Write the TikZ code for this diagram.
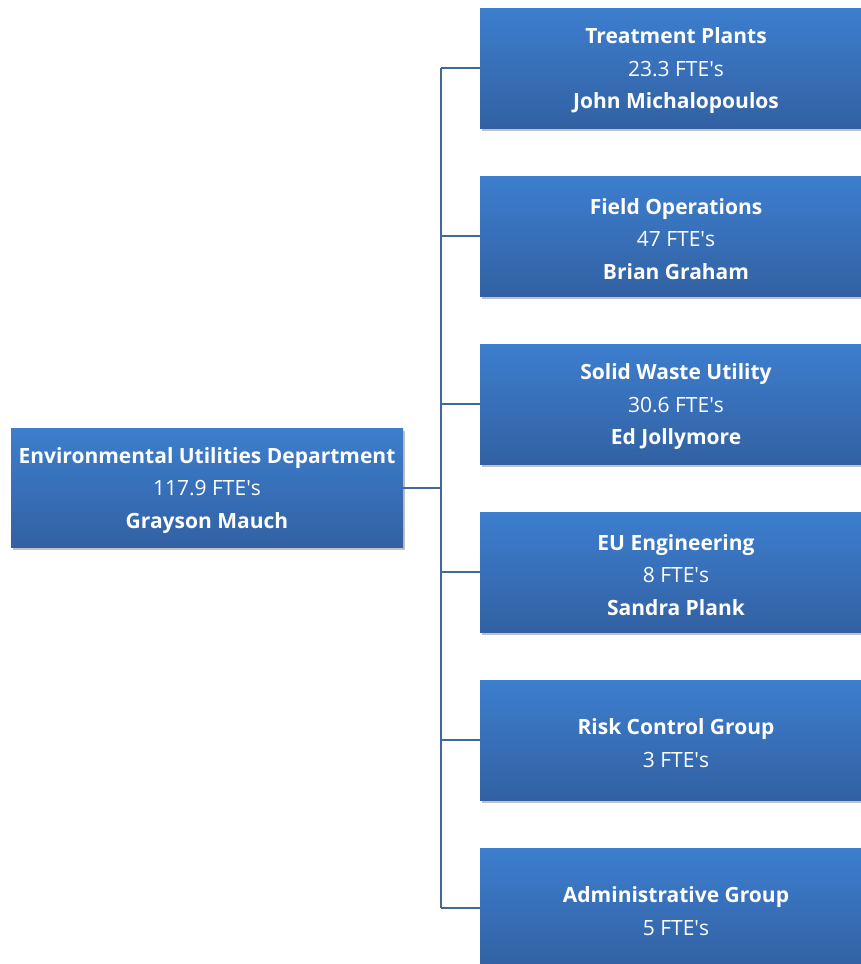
\documentclass[tikz,border=0pt]{standalone}
\usepackage{fontspec}
\setmainfont{Open Sans}
\usetikzlibrary{shadows}
\definecolor{boxtop}{RGB}{61,126,206}
\definecolor{boxbot}{RGB}{50,97,163}
\definecolor{linec}{RGB}{65,104,156}
\newcommand{\apos}{\XeTeXglyph\XeTeXcharglyph"0027\relax}
\tikzset{
  orgbox/.style={rectangle, top color=boxtop, bottom color=boxbot, draw=none,
    drop shadow={shadow xshift=2pt, shadow yshift=-3pt, opacity=0.35, fill=black!70}},
  boxtext/.style={text=white, align=center, inner sep=0pt, yshift=-3pt,
    font=\fontsize{21}{32.5}\selectfont},
  rootbox/.style={orgbox, minimum width=392pt, minimum height=119pt},
  childbox/.style={orgbox, minimum width=392pt, minimum height=120pt},
  conn/.style={draw=linec, line width=1.8pt}
}
\begin{document}
\begin{tikzpicture}[x=1pt,y=-1pt]
\useasboundingbox (0,0) rectangle (860,964);
\node[rootbox, label={[boxtext]center:\textbf{Environmental Utilities Department}\\117.9 FTE\apos s\\\textbf{Grayson Mauch}}] (root) at (207,487.5) {};
\node[childbox, label={[boxtext]center:\textbf{Treatment Plants}\\23.3 FTE\apos s\\\textbf{John Michalopoulos}}] (c1) at (676,68) {};
\node[childbox, label={[boxtext]center:\textbf{Field Operations}\\47 FTE\apos s\\\textbf{Brian Graham}}] (c2) at (676,236) {};
\node[childbox, label={[boxtext]center:\textbf{Solid Waste Utility}\\30.6 FTE\apos s\\\textbf{Ed Jollymore}}] (c3) at (676,404) {};
\node[childbox, label={[boxtext]center:\textbf{EU Engineering}\\8 FTE\apos s\\\textbf{Sandra Plank}}] (c4) at (676,572) {};
\node[childbox, label={[boxtext]center:\textbf{Risk Control Group}\\3 FTE\apos s}] (c5) at (676,740) {};
\node[childbox, label={[boxtext]center:\textbf{Administrative Group}\\5 FTE\apos s}] (c6) at (676,908) {};
\coordinate (bus) at (441,488);
\draw[conn] (root.east |- bus) -- (bus);
\foreach \c in {c1,c2,c3,c4,c5,c6}{
  \draw[conn] (bus |- \c.west) -- (\c.west);
}
\draw[conn] (bus |- c1.west) -- (bus |- c6.west);
\end{tikzpicture}
\end{document}
